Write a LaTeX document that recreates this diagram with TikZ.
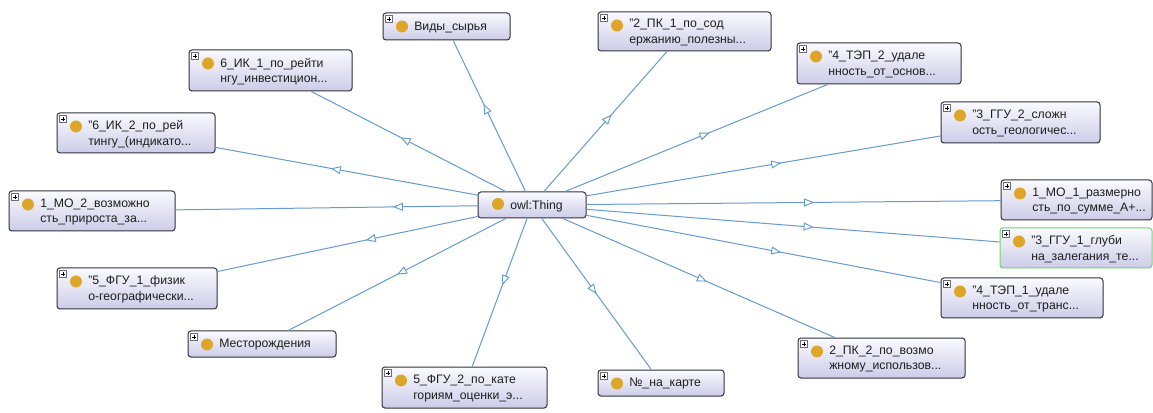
\documentclass[tikz,border=0pt]{standalone}
\usepackage{fontspec}
\setmainfont{Liberation Sans}
\usetikzlibrary{arrows.meta,decorations.markings}
\definecolor{boxtop}{RGB}{250,250,255}
\definecolor{boxbot}{RGB}{204,204,232}
\definecolor{boxborder}{RGB}{50,50,60}
\definecolor{dotcol}{RGB}{222,166,40}
\definecolor{edgeblue}{RGB}{100,155,210}
\definecolor{greenb}{RGB}{110,215,110}
\definecolor{textcol}{RGB}{30,30,30}
\definecolor{plusgray}{RGB}{110,110,120}
\tikzset{
  obox/.style={draw=boxborder, line width=0.75pt, rounded corners=2.2pt, top color=boxtop, bottom color=boxbot, inner sep=0pt},
  dotn/.style={circle, fill=dotcol, minimum size=9pt, inner sep=0pt},
  plusbox/.style={draw=plusgray, fill=white, minimum size=5pt, inner sep=0pt, line width=0.4pt},
  lbl/.style={font=\fontsize{9.2}{11.6}\selectfont, text=textcol, align=left, inner sep=0pt, anchor=west},
  isa/.style={draw=edgeblue, line width=0.75pt, postaction={decorate, decoration={markings, mark=at position #1 with {\arrow{Triangle[length=7.5pt,width=6pt,fill=white,line width=0.7pt]}}}}},
}
\newcommand\owlbox[7][]{%
  \node[obox,#1,minimum width={(#5-#3)*0.75pt},minimum height={(#6-#4)*0.75pt}] (#2) at ({(#3+#5)/2},{(#4+#6)/2}) {};
  \node[dotn] (#2d) at ({#3+19},{#4+13.5}) {};
  \node[lbl] (#2t) at ({#3+31},{(#4+#6)/2+1}) {#7};
  \node[plusbox] (#2p) at ({#3+6},{#4+6}) {};
  \draw[line width=0.5pt] (#2p.center) ++(-2,0) -- ++(4,0) (#2p.center) ++(0,-2) -- ++(0,4);
}
\begin{document}
\begin{tikzpicture}[x=0.75pt,y=-0.75pt]
\useasboundingbox[fill=white] (0,0) rectangle (1153,413);
% central node
\node[obox,minimum width={108*0.75pt},minimum height={26*0.75pt}] (thing) at (532,205) {};
\node[dotn] (thingd) at (498,204) {};
\node[lbl] (thingt) at (510,206) {owl:Thing};
% outer nodes
\owlbox{vid}{383}{13}{510}{40}{Виды\_сырья}
\owlbox{pk1}{598}{12}{771}{51}{"2\_ПК\_1\_по\_сод\\ержанию\_полезны...}
\owlbox{tep2}{797}{43}{961}{84}{"4\_ТЭП\_2\_удале\\нность\_от\_основ...}
\owlbox{ggu2}{941}{102}{1100}{143}{"3\_ГГУ\_2\_сложн\\ость\_геологичес...}
\owlbox{mo1}{1001}{180}{1152}{220}{1\_МО\_1\_размерно\\сть\_по\_сумме\_А+...}
\owlbox[draw=greenb]{ggu1}{1000}{228}{1152}{268}{"3\_ГГУ\_1\_глуби\\на\_залегания\_те...}
\owlbox{tep1}{941}{278}{1103}{318}{"4\_ТЭП\_1\_удале\\нность\_от\_транс...}
\owlbox{pk2}{798}{338}{965}{378}{2\_ПК\_2\_по\_возмо\\жному\_использов...}
\owlbox{num}{598}{370}{724}{396}{№\_на\_карте}
\owlbox{fgu2}{382}{367}{547}{408}{5\_ФГУ\_2\_по\_кате\\гориям\_оценки\_э...}
\owlbox{mest}{188}{331}{336}{357}{Месторождения}
\owlbox{fgu1}{57}{268}{217}{309}{"5\_ФГУ\_1\_физик\\о-географически...}
\owlbox{mo2}{9}{191}{175}{231}{1\_МО\_2\_возможно\\сть\_прироста\_за...}
\owlbox{ik2}{57}{113}{215}{153}{"6\_ИК\_2\_по\_рей\\тингу\_(индикато...}
\owlbox{ik1}{189}{50}{352}{91}{6\_ИК\_1\_по\_рейти\\нгу\_инвестицион...}
% connectors
\draw[isa=0.58] (thing) -- (vid);
\draw[isa=0.55] (thing) -- (pk1);
\draw[isa=0.55] (thing) -- (tep2);
\draw[isa=0.55] (thing) -- (ggu2);
\draw[isa=0.55] (thing) -- (mo1);
\draw[isa=0.55] (thing) -- (ggu1);
\draw[isa=0.55] (thing) -- (tep1);
\draw[isa=0.53] (thing) -- (pk2);
\draw[isa=0.50] (thing) -- (num);
\draw[isa=0.45] (thing) -- (fgu2);
\draw[isa=0.50] (thing) -- (mest);
\draw[isa=0.43] (thing) -- (fgu1);
\draw[isa=0.28] (thing) -- (mo2);
\draw[isa=0.56] (thing) -- (ik2);
\draw[isa=0.54] (thing) -- (ik1);
\end{tikzpicture}
\end{document}
